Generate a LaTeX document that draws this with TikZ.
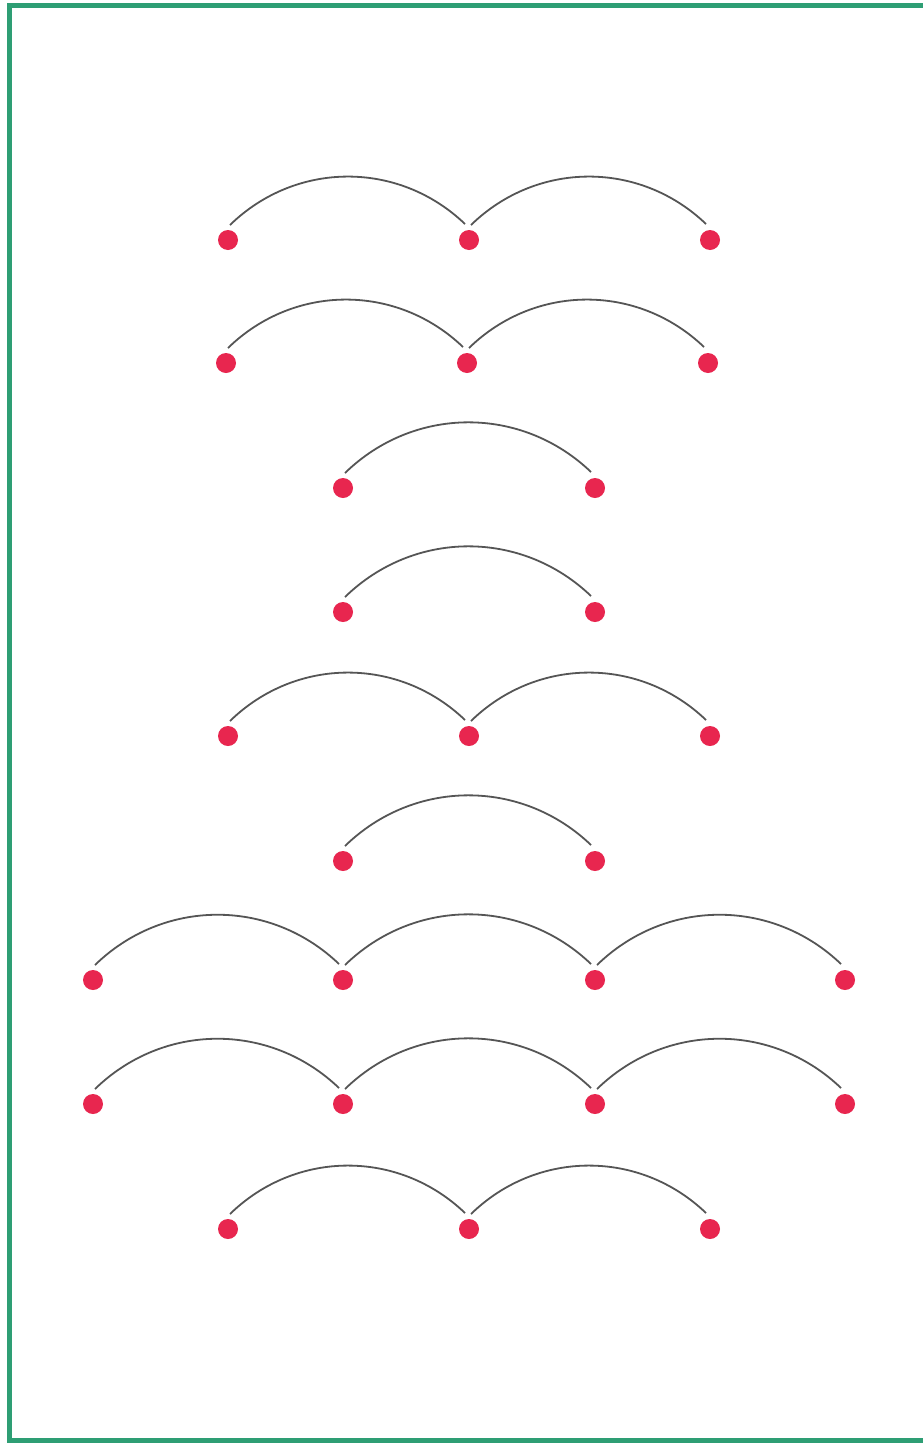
\documentclass[tikz,border=0pt]{standalone}
\definecolor{dotred}{HTML}{E8264F}
\definecolor{arcgray}{HTML}{555555}
\definecolor{framegreen}{HTML}{2E9E74}
\tikzset{
  dotnode/.style={circle, fill=dotred, inner sep=0pt, minimum size=20pt},
  arcline/.style={draw=arcgray, line width=1.8pt},
  frameline/.style={draw=framegreen, line width=5pt}
}
\newcommand{\archop}[2]{\draw[arcline] ([shift={(2pt,15pt)}]#1.center) to[bend left=44] ([shift={(-4pt,16pt)}]#2.center);}
\begin{document}
\begin{tikzpicture}[x=1pt,y=-1pt]
\useasboundingbox (0,0) rectangle (923,1443);
\fill[white] (0,0) rectangle (923,1443);
% frame
\coordinate (ftr) at (930,5.5);
\coordinate (ftl) at (9.5,5.5);
\coordinate (fbl) at (9.5,1440.5);
\coordinate (fbr) at (930,1440.5);
\draw[frameline] (ftr) -- (ftl) -- (fbl) -- (fbr);
% row 1
\node[dotnode] (r1a) at (228,240) {};
\node[dotnode] (r1b) at (469,240) {};
\node[dotnode] (r1c) at (710,240) {};
\archop{r1a}{r1b}\archop{r1b}{r1c}
% row 2
\node[dotnode] (r2a) at (226,363) {};
\node[dotnode] (r2b) at (467,363) {};
\node[dotnode] (r2c) at (708,363) {};
\archop{r2a}{r2b}\archop{r2b}{r2c}
% row 3
\node[dotnode] (r3a) at (343,488) {};
\node[dotnode] (r3b) at (595,488) {};
\archop{r3a}{r3b}
% row 4
\node[dotnode] (r4a) at (343,612) {};
\node[dotnode] (r4b) at (595,612) {};
\archop{r4a}{r4b}
% row 5
\node[dotnode] (r5a) at (228,736) {};
\node[dotnode] (r5b) at (469,736) {};
\node[dotnode] (r5c) at (710,736) {};
\archop{r5a}{r5b}\archop{r5b}{r5c}
% row 6
\node[dotnode] (r6a) at (343,861) {};
\node[dotnode] (r6b) at (595,861) {};
\archop{r6a}{r6b}
% row 7
\node[dotnode] (r7a) at (93,980) {};
\node[dotnode] (r7b) at (343,980) {};
\node[dotnode] (r7c) at (595,980) {};
\node[dotnode] (r7d) at (845,980) {};
\archop{r7a}{r7b}\archop{r7b}{r7c}\archop{r7c}{r7d}
% row 8
\node[dotnode] (r8a) at (93,1104) {};
\node[dotnode] (r8b) at (343,1104) {};
\node[dotnode] (r8c) at (595,1104) {};
\node[dotnode] (r8d) at (845,1104) {};
\archop{r8a}{r8b}\archop{r8b}{r8c}\archop{r8c}{r8d}
% row 9
\node[dotnode] (r9a) at (228,1229) {};
\node[dotnode] (r9b) at (469,1229) {};
\node[dotnode] (r9c) at (710,1229) {};
\archop{r9a}{r9b}\archop{r9b}{r9c}
\end{tikzpicture}
\end{document}
